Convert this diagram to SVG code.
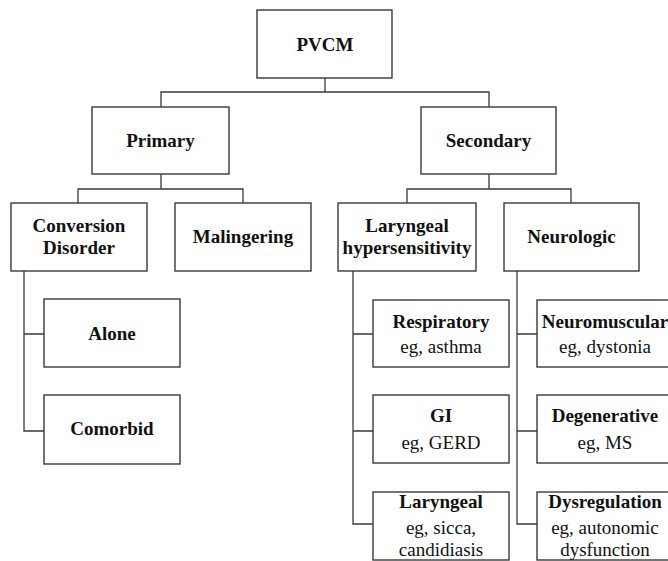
<svg xmlns="http://www.w3.org/2000/svg" width="668" height="561" viewBox="0 0 668 561">
<style>
.box{fill:#fff;stroke:#3a3a3a;stroke-width:1.4}
.con{fill:none;stroke:#3a3a3a;stroke-width:1.3}
text{font-family:'Liberation Serif','DejaVu Serif',serif;font-size:19px;fill:#111;text-anchor:middle}
.b{font-weight:bold}
</style>
<rect width="668" height="561" fill="#fff"/>
<g id="connectors">
<path class="con" d="M325,78V92M161,107V92H489V107"/>
<path class="con" d="M161,174V189M78,203V189H243V203"/>
<path class="con" d="M489,174V189M407,203V189H571V203"/>
<path class="con" d="M24,271V431H44M24,334H44"/>
<path class="con" d="M353,271V524H373M353,334H373M353,431H373"/>
<path class="con" d="M517,271V524H537M517,334H537M517,431H537"/>
</g>
<g id="pvcm"><rect class="box" x="257" y="10" width="135" height="68"/><text class="b" x="325" y="51" font-family="Liberation Serif, serif">PVCM</text></g>
<g id="primary"><rect class="box" x="92" y="107" width="137" height="67"/><text class="b" x="160.5" y="147">Primary</text></g>
<g id="secondary"><rect class="box" x="421" y="107" width="135" height="67"/><text class="b" x="488.5" y="147">Secondary</text></g>
<g id="conversion"><rect class="box" x="11" y="203" width="136" height="68"/><text class="b" x="79" y="232">Conversion</text><text class="b" x="79" y="254">Disorder</text></g>
<g id="malingering"><rect class="box" x="175" y="203" width="136" height="68"/><text class="b" x="243" y="243">Malingering</text></g>
<g id="laryngeal-hyper"><rect class="box" x="338" y="203" width="138" height="68"/><text class="b" x="407" y="232">Laryngeal</text><text class="b" x="407" y="254">hypersensitivity</text></g>
<g id="neurologic"><rect class="box" x="504" y="203" width="135" height="68"/><text class="b" x="571.5" y="243">Neurologic</text></g>
<g id="alone"><rect class="box" x="44" y="299" width="136" height="68"/><text class="b" x="112" y="340">Alone</text></g>
<g id="comorbid"><rect class="box" x="44" y="395" width="136" height="69"/><text class="b" x="112" y="435">Comorbid</text></g>
<g id="respiratory"><rect class="box" x="373" y="300" width="136" height="67"/><text class="b" x="441" y="328">Respiratory</text><text x="441" y="353">eg, asthma</text></g>
<g id="gi"><rect class="box" x="373" y="395" width="136" height="68"/><text class="b" x="441" y="422">GI</text><text x="441" y="449">eg, GERD</text></g>
<g id="laryngeal"><rect class="box" x="373" y="492" width="136" height="68"/><text class="b" x="441" y="508">Laryngeal</text><text x="441" y="534">eg, sicca,</text><text x="441" y="556">candidiasis</text></g>
<g id="neuromuscular"><rect class="box" x="537" y="300" width="136" height="67"/><text class="b" x="605" y="328">Neuromuscular</text><text x="605" y="353">eg, dystonia</text></g>
<g id="degenerative"><rect class="box" x="537" y="395" width="136" height="68"/><text class="b" x="605" y="422">Degenerative</text><text x="605" y="449">eg, MS</text></g>
<g id="dysregulation"><rect class="box" x="537" y="492" width="136" height="68"/><text class="b" x="605" y="508">Dysregulation</text><text x="605" y="534">eg, autonomic</text><text x="605" y="556">dysfunction</text></g>
</svg>
